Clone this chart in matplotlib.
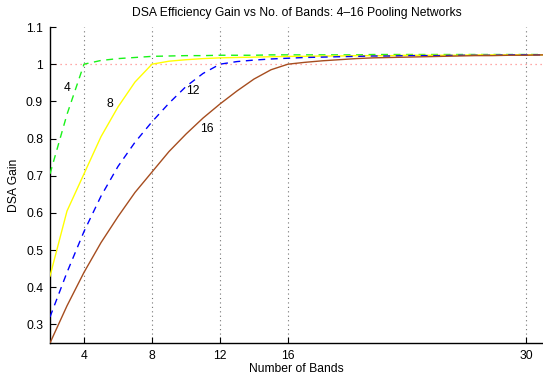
import matplotlib
matplotlib.use("Agg")
import matplotlib.pyplot as plt

bands = list(range(2, 32))
gain_4 = [0.705, 0.865, 1.000, 1.010, 1.015, 1.018, 1.021, 1.022, 1.023, 1.023,
          1.024, 1.024, 1.024, 1.025, 1.025, 1.025, 1.025, 1.025, 1.025, 1.026,
          1.026, 1.026, 1.026, 1.026, 1.026, 1.026, 1.026, 1.026, 1.026, 1.026]
gain_8 = [0.430, 0.605, 0.705, 0.805, 0.885, 0.952, 1.000, 1.008, 1.012, 1.015,
          1.017, 1.018, 1.019, 1.020, 1.021, 1.021, 1.022, 1.022, 1.023, 1.023,
          1.023, 1.024, 1.024, 1.024, 1.024, 1.025, 1.025, 1.025, 1.025, 1.025]
gain_12 = [0.320, 0.440, 0.550, 0.645, 0.725, 0.790, 0.845, 0.895, 0.940, 0.975,
           1.000, 1.007, 1.011, 1.014, 1.016, 1.018, 1.019, 1.020, 1.021, 1.022,
           1.022, 1.023, 1.023, 1.023, 1.024, 1.024, 1.024, 1.025, 1.025, 1.025]
gain_16 = [0.250, 0.350, 0.440, 0.520, 0.590, 0.655, 0.710, 0.765, 0.812, 0.855,
           0.893, 0.928, 0.960, 0.985, 1.000, 1.005, 1.009, 1.012, 1.015, 1.017,
           1.018, 1.019, 1.020, 1.021, 1.022, 1.023, 1.023, 1.024, 1.024, 1.025]

xticks = [4, 8, 12, 16, 30]
yticks = [0.3, 0.4, 0.5, 0.6, 0.7, 0.8, 0.9, 1.0, 1.1]
ytick_labels = ["0.3", "0.4", "0.5", "0.6", "0.7", "0.8", "0.9", "1", "1.1"]
curve_labels = ["4", "8", "12", "16"]
label_pos = [(3.0, 0.936), (5.53, 0.893), (10.4, 0.929), (11.24, 0.826)]

plt.rcParams['font.family'] = ['Liberation Sans', 'DejaVu Sans']

fig = plt.figure(figsize=(5.43, 3.74), dpi=100)
ax = fig.add_axes([50/543, 31/374, 493/543, 316/374])

for xv in xticks:
    ax.plot([xv, xv], [0.25, 1.1], color=(0.45, 0.45, 0.45), lw=0.8,
            linestyle=(0, (1, 3)), zorder=1)
ax.plot([2, 31], [1.0, 1.0], color=(1.0, 0.55, 0.55), lw=0.9,
        linestyle=(0, (1, 3)), zorder=1)

ax.plot(bands, gain_4, color=(0.1, 0.95, 0.1), lw=1.0, linestyle=(0, (5, 4)), zorder=3)
ax.plot(bands, gain_8, color=(1.0, 1.0, 0.0), lw=1.0, linestyle='-', zorder=3)
ax.plot(bands, gain_12, color=(0.0, 0.0, 1.0), lw=1.0, linestyle=(0, (5, 4)), zorder=3)
ax.plot(bands, gain_16, color=(0.65, 0.3, 0.12), lw=1.0, linestyle='-', zorder=3)

for lab, (lx, ly) in zip(curve_labels, label_pos):
    ax.text(lx, ly, lab, fontsize=8.7, ha='center', va='center')

ax.set_xlim(2, 31)
ax.set_ylim(0.25, 1.1)
ax.set_xticks(xticks)
ax.set_xticklabels([str(t) for t in xticks])
ax.set_yticks(yticks)
ax.set_yticklabels(ytick_labels)
ax.tick_params(direction='in', length=4, width=0.8, labelsize=8.7, pad=5)
for s in ['top', 'right']:
    ax.spines[s].set_visible(False)
for s in ['left', 'bottom']:
    ax.spines[s].set_linewidth(1.0)

ax.set_title("DSA Efficiency Gain vs No. of Bands: 4\u201316 Pooling Networks",
             fontsize=8.7, pad=8)
ax.set_xlabel("Number of Bands", fontsize=8.7, labelpad=1)
ax.set_ylabel("DSA Gain", fontsize=8.7, labelpad=4)

fig.savefig("out.png", dpi=100)
